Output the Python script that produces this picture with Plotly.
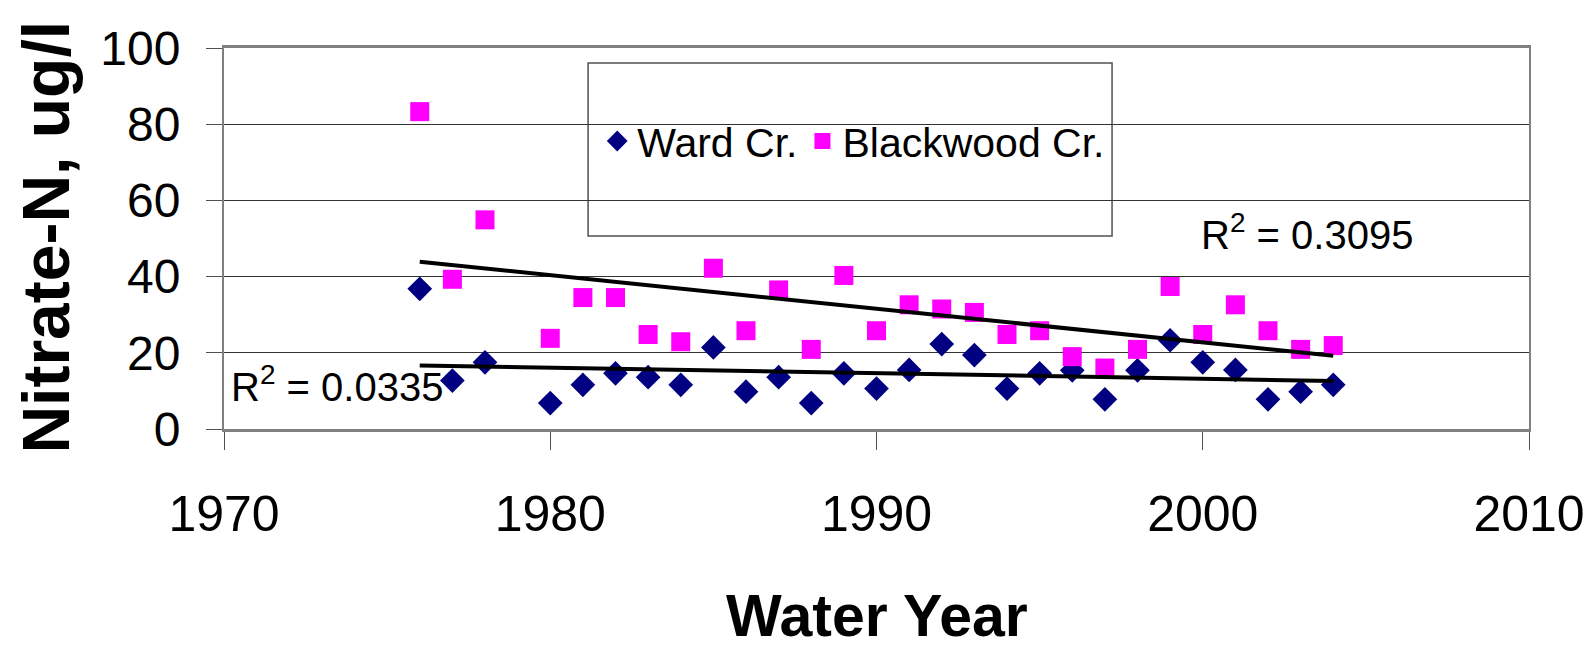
import numpy as np
import plotly.graph_objects as go

# ---- data ----
years = [1976, 1977, 1978, 1980, 1981, 1982, 1983, 1984, 1985, 1986, 1987, 1988, 1989, 1990,
         1991, 1992, 1993, 1994, 1995, 1996, 1997, 1998, 1999, 2000, 2001, 2002, 2003, 2004]
ward = [36.8, 12.7, 17.5, 6.8, 11.6, 14.6, 13.6, 11.6, 21.4, 9.8, 13.6, 6.8, 14.6, 10.6,
        15.5, 22.3, 19.4, 10.6, 14.6, 15.4, 7.8, 15.4, 23.3, 17.5, 15.5, 7.8, 9.8, 11.6]
blackwood = [83.3, 39.3, 54.9, 23.8, 34.5, 34.5, 24.8, 22.9, 42.2, 25.8, 36.5, 20.9, 40.3, 25.8,
             32.6, 31.5, 30.6, 24.8, 25.8, 19.0, 16.0, 20.9, 37.4, 24.8, 32.6, 25.8, 20.9, 21.9]
series_names = ["Ward Cr.", "Blackwood Cr."]
r2_labels = ["R<sup>2</sup> = 0.0335", "R<sup>2</sup> = 0.3095"]
x_ticks = [1970, 1980, 1990, 2000, 2010]
y_ticks = [0, 20, 40, 60, 80, 100]

FONT = "Liberation Sans, Arial, sans-serif"

fig = go.Figure()

fig.add_trace(go.Scatter(x=years, y=ward, mode="markers", name=series_names[0],
                         marker=dict(symbol="diamond", size=19, color="#000080",
                                     line=dict(width=0))))
fig.add_trace(go.Scatter(x=years, y=blackwood, mode="markers", name=series_names[1],
                         marker=dict(symbol="square", size=19, color="#FF00FF",
                                     line=dict(width=0))))

# linear trendlines from the data
for vals in (ward, blackwood):
    m, b = np.polyfit(years, vals, 1)
    xs = np.array([min(years), max(years)])
    fig.add_trace(go.Scatter(x=xs, y=m * xs + b, mode="lines", showlegend=False,
                             line=dict(color="black", width=4), hoverinfo="skip"))

# legend box
fig.add_shape(type="rect", xref="paper", yref="paper",
              x0=0.279, x1=0.6805, y0=0.5066, y1=0.9606,
              fillcolor="white", line=dict(color="#505050", width=1.5), layer="between")

fig.add_annotation(x=1973.45, y=11.7, xref="x", yref="y", text=r2_labels[0],
                   showarrow=False, font=dict(family=FONT, size=40, color="black"))
fig.add_annotation(x=2003.2, y=51.7, xref="x", yref="y", text=r2_labels[1],
                   showarrow=False, font=dict(family=FONT, size=40, color="black"))

# axis titles
fig.add_annotation(x=-0.1364, y=0.505, xref="paper", yref="paper", text="<b>Nitrate-N, ug/l</b>",
                   textangle=-90, showarrow=False, xanchor="center", yanchor="middle",
                   font=dict(family=FONT, size=66, color="black"))
fig.add_annotation(x=0.5, y=-0.491, xref="paper", yref="paper", text="<b>Water Year</b>",
                   showarrow=False, xanchor="center", yanchor="middle",
                   font=dict(family=FONT, size=59, color="black"))

fig.update_layout(
    width=1583, height=644,
    margin=dict(l=216, r=62, t=40, b=223),
    paper_bgcolor="white", plot_bgcolor="white",
    showlegend=True,
    legend=dict(orientation="h", x=0.286, y=0.755, xanchor="left", yanchor="middle",
                bgcolor="rgba(0,0,0,0)", borderwidth=0,
                font=dict(family=FONT, size=41, color="black"),
                itemsizing="trace", tracegroupgap=0),
    xaxis=dict(range=[1970, 2010], tickvals=x_ticks, ticks="outside", ticklen=18,
               tickcolor="#505050", tickwidth=1, showgrid=False, zeroline=False,
               showline=True, linecolor="#808080", linewidth=3, mirror=True,
               tickfont=dict(family=FONT, size=50, color="black"),
               ticklabelstandoff=21, automargin=False, ticklabeloverflow="allow"),
    yaxis=dict(range=[0, 100], tickvals=y_ticks, ticks="outside", ticklen=16,
               tickcolor="#505050", tickwidth=1, showgrid=True, gridcolor="#333333",
               gridwidth=1, zeroline=False,
               showline=True, linecolor="#808080", linewidth=2, mirror=True,
               tickfont=dict(family=FONT, size=48, color="black"),
               ticklabelstandoff=16, automargin=False),
)

fig.write_html("out.html")
